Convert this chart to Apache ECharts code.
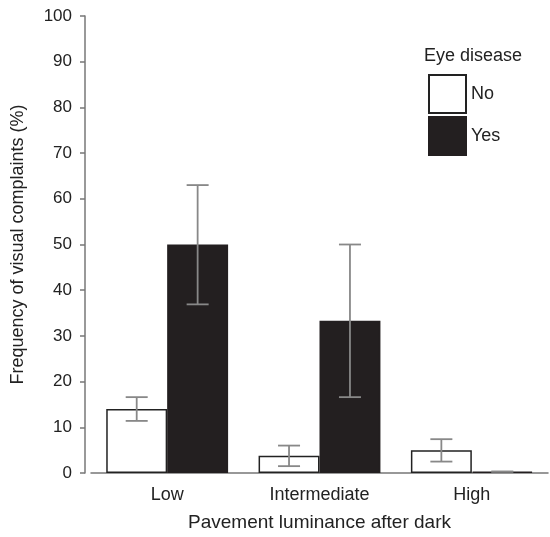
<!DOCTYPE html>
<html><head><meta charset="utf-8">
<script src="https://cdn.jsdelivr.net/npm/echarts@6/dist/echarts.min.js"></script>
<style>html,body{margin:0;padding:0;background:#fff}#c{width:550px;height:537px}</style>
</head><body><div id="c"></div>
<script>
const categories = ['Low', 'Intermediate', 'High'];
const noValues = [14.0, 3.8, 5.0];
const yesValues = [50.0, 33.3, 0.3];
const noLow = [11.4, 1.5, 2.5];
const noHigh = [16.6, 6.0, 7.4];
const yesLow = [36.9, 16.6, 0.3];
const yesHigh = [63.0, 50.0, 0.3];
const yTicks = [0, 10, 20, 30, 40, 50, 60, 70, 80, 90, 100];

const errData = [];
categories.forEach((c, i) => {
  errData.push([i, noLow[i], noHigh[i], -1]);
  errData.push([i, yesLow[i], yesHigh[i], 1]);
});

const FONT = 'Liberation Sans';
const chart = echarts.init(document.getElementById('c'));
chart.setOption({
  animation: false,
  textStyle: { fontFamily: FONT },
  grid: { left: 91, right: 2, top: 16, bottom: 64 },
  title: {
    text: 'Eye disease', left: 419, top: 42,
    textStyle: { fontFamily: FONT, fontSize: 18, fontWeight: 'normal', color: '#222' }
  },
  legend: {
    orient: 'vertical', left: 423, top: 69,
    itemWidth: 37, itemHeight: 38, itemGap: 2,
    icon: 'rect',
    data: ['No', 'Yes'],
    textStyle: { fontFamily: FONT, fontSize: 18, color: '#222', padding: [0, 0, 0, 0] }
  },
  xAxis: {
    type: 'category', data: categories,
    axisLine: { lineStyle: { color: '#777', width: 1.5 } },
    axisTick: { alignWithLabel: true, length: 5, lineStyle: { color: '#777', width: 1.5 } },
    axisLabel: { fontSize: 18, color: '#222', margin: 13 },
    name: 'Pavement luminance after dark', nameLocation: 'middle', nameGap: 40,
    nameTextStyle: { fontSize: 19, color: '#222' }
  },
  yAxis: {
    type: 'value', min: 0, max: 100, interval: 10, offset: 6,
    axisLine: { show: true, lineStyle: { color: '#777', width: 1.5 } },
    axisTick: { show: true, length: 5, lineStyle: { color: '#777', width: 1.5 } },
    splitLine: { show: false },
    axisLabel: { fontSize: 17, color: '#222', margin: 13 },
    name: 'Frequency of visual complaints (%)', nameLocation: 'middle', nameGap: 58,
    nameTextStyle: { fontSize: 18, color: '#222' }
  },
  series: [
    { name: 'No', type: 'bar', data: noValues, barGap: '0%', barCategoryGap: '20%',
      itemStyle: { color: '#fff', borderColor: '#222', borderWidth: 1.5 } },
    { name: 'Yes', type: 'bar', data: yesValues, barGap: '0%', barCategoryGap: '20%',
      itemStyle: { color: '#231f20', borderColor: '#231f20', borderWidth: 1.5 } },
    { name: 'err', type: 'custom', data: errData, z: 10,
      renderItem: function (params, api) {
        const idx = api.value(0);
        const side = api.value(3);
        const cw = api.size([1, 0])[0];
        const lo = api.coord([idx, api.value(1)]);
        const hi = api.coord([idx, api.value(2)]);
        const x = lo[0] + side * cw * 0.2;
        const hw = 11;
        const st = { stroke: '#888', lineWidth: 1.8 };
        return { type: 'group', children: [
          { type: 'line', shape: { x1: x, y1: lo[1], x2: x, y2: hi[1] }, style: st },
          { type: 'line', shape: { x1: x - hw, y1: lo[1], x2: x + hw, y2: lo[1] }, style: st },
          { type: 'line', shape: { x1: x - hw, y1: hi[1], x2: x + hw, y2: hi[1] }, style: st }
        ]};
      }
    }
  ]
});
</script></body></html>
